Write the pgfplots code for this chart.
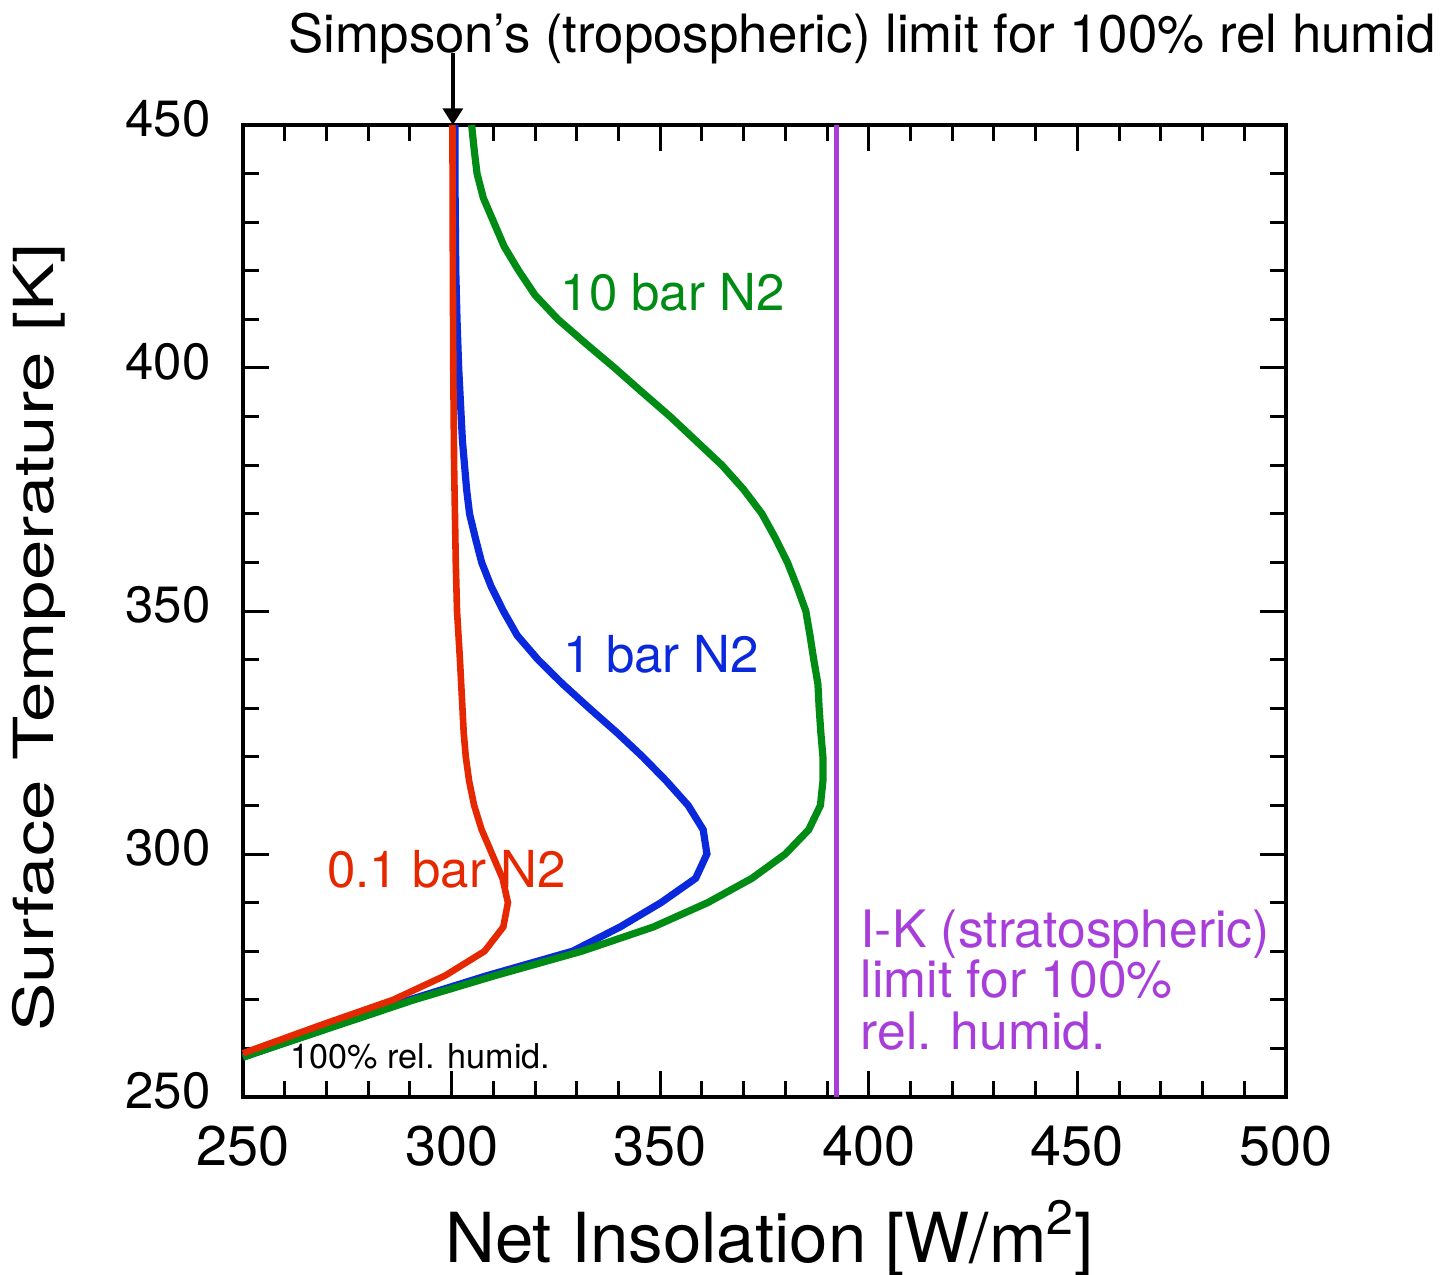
\documentclass[border=0pt]{standalone}
\usepackage{pgfplots}
\pgfplotsset{compat=1.18}
\usepackage{fontspec}
\setmainfont{TeX Gyre Heros}
\usetikzlibrary{arrows.meta}

\definecolor{redc}{RGB}{230,40,0}
\definecolor{bluec}{RGB}{10,40,220}
\definecolor{greenc}{RGB}{0,140,20}
\definecolor{purplec}{RGB}{168,62,218}

\begin{document}
\begin{tikzpicture}
\begin{axis}[
    at={(0,0)}, anchor=south west,
    scale only axis,
    width=347.67pt, height=324pt,
    xmin=250, xmax=500, ymin=250, ymax=450,
    xtick={250,300,...,500}, ytick={250,300,...,450},
    minor x tick num=4, minor y tick num=4,
    tick align=inside,
    major tick length=8.7pt, minor tick length=5.3pt,
    tick style={black, line width=1pt},
    axis line style={line width=1.5pt},
    /pgf/number format/assume math mode=true,
    xticklabel style={font=\fontsize{18.6}{22}\selectfont, yshift=-6pt},
    yticklabel style={font=\fontsize{17}{20}\selectfont, xshift=-7.3pt, yshift=2.2pt},
    xlabel={Net Insolation [W/m\textsuperscript{2}]},
    ylabel={Surface Temperature [K]},
    xlabel style={font=\fontsize{23}{27}\selectfont, at={(axis description cs:0.505,0)}, anchor=base, yshift=-55pt},
    ylabel style={font=\fontsize{24.2}{28}\selectfont, at={(axis description cs:0,0.473)}, anchor=base, yshift=63.3pt, yscale=0.76},
    clip=false,
]
% 1 bar N2
\addplot[bluec, line width=2.4pt] coordinates {
    (250,258.2) (256.1,260) (273.0,265) (289.9,270) (308.6,275) (329.0,280)
    (340.4,285) (350.2,290) (358.5,295) (361.2,300) (360.3,305) (356.7,310)
    (351.5,315) (345.8,320) (339.6,325) (333.0,330) (326.6,335) (320.7,340)
    (315.7,345) (312.4,350) (309.5,355) (307.2,360) (305.7,365) (304.3,370)
    (303.6,375) (303.1,380) (302.6,385) (302.3,390) (301.7,400) (301.3,410)
    (301.0,420) (300.9,430) (300.8,440) (300.8,450)
};
% 10 bar N2
\addplot[greenc, line width=2.4pt] coordinates {
    (250,258.2) (256.2,260) (273.6,265) (291.0,270) (310.5,275) (331.2,280)
    (348.4,285) (361.4,290) (372.0,295) (380.0,300) (385.6,305) (388.4,310)
    (389.0,315) (389.0,320) (388.5,325) (388.1,330) (387.8,335) (386.8,340)
    (385.9,345) (384.9,350) (382.8,355) (380.5,360) (377.6,365) (374.4,370)
    (370.0,375) (364.8,380) (358.6,385) (352.4,390) (345.7,395) (339.1,400)
    (332.2,405) (325.5,410) (320.0,415) (316.1,420) (312.6,425) (310.1,430)
    (307.6,435) (306.1,440) (305.4,445) (304.8,450)
};
% 0.1 bar N2
\addplot[redc, line width=2.2pt] coordinates {
    (250,259) (253.2,260) (269.3,265) (286.0,270) (298.5,275) (307.9,280)
    (312.4,285) (313.5,290) (312.2,295) (309.7,300) (307.2,305) (305.4,310)
    (304.2,315) (303.4,320) (302.9,325) (302.6,330) (302.0,340) (301.3,350)
    (301.0,360) (300.8,370) (300.6,380) (300.5,390) (300.4,400) (300.3,420)
    (300.2,450)
};
% I-K limit
\addplot[purplec, line width=1.6pt] coordinates {(392.2,250) (392.2,450)};

\node[anchor=base west, inner sep=0, greenc, font=\fontsize{17}{20}\selectfont] at (axis cs:326.0,411.9) {10 bar N2};
\node[anchor=base west, inner sep=0, bluec, font=\fontsize{17}{20}\selectfont] at (axis cs:326.7,337.4) {1 bar N2};
\node[anchor=base west, inner sep=0, redc, font=\fontsize{17}{20}\selectfont] at (axis cs:270.1,293.2) {0.1 bar N2};
\node[anchor=base west, inner sep=0, font=\fontsize{11.4}{13}\selectfont] at (axis cs:261.3,255.8) {100\% rel. humid.};
\node[anchor=base west, inner sep=0, purplec, font=\fontsize{17.2}{20}\selectfont] at (axis cs:397.9,280.7) {I-K (stratospheric)};
\node[anchor=base west, inner sep=0, purplec, font=\fontsize{17.2}{20}\selectfont] at (axis cs:397.9,270.4) {limit for 100\%};
\node[anchor=base west, inner sep=0, purplec, font=\fontsize{17.2}{20}\selectfont] at (axis cs:397.9,259.7) {rel. humid.};
\node[anchor=base west, inner sep=0, font=\fontsize{17.6}{20}\selectfont] at (axis cs:260.8,465.0) {Simpson’s (tropospheric) limit for 100\% rel humid};
\draw[-{Triangle[width=6.5pt,length=5.5pt]}, line width=1.5pt] (axis cs:300.3,464.8) -- (axis cs:300.3,450);
\end{axis}
\pgfresetboundingbox
\path[use as bounding box] (-81pt,-59pt) rectangle (400pt,365.67pt);
\end{tikzpicture}
\end{document}
